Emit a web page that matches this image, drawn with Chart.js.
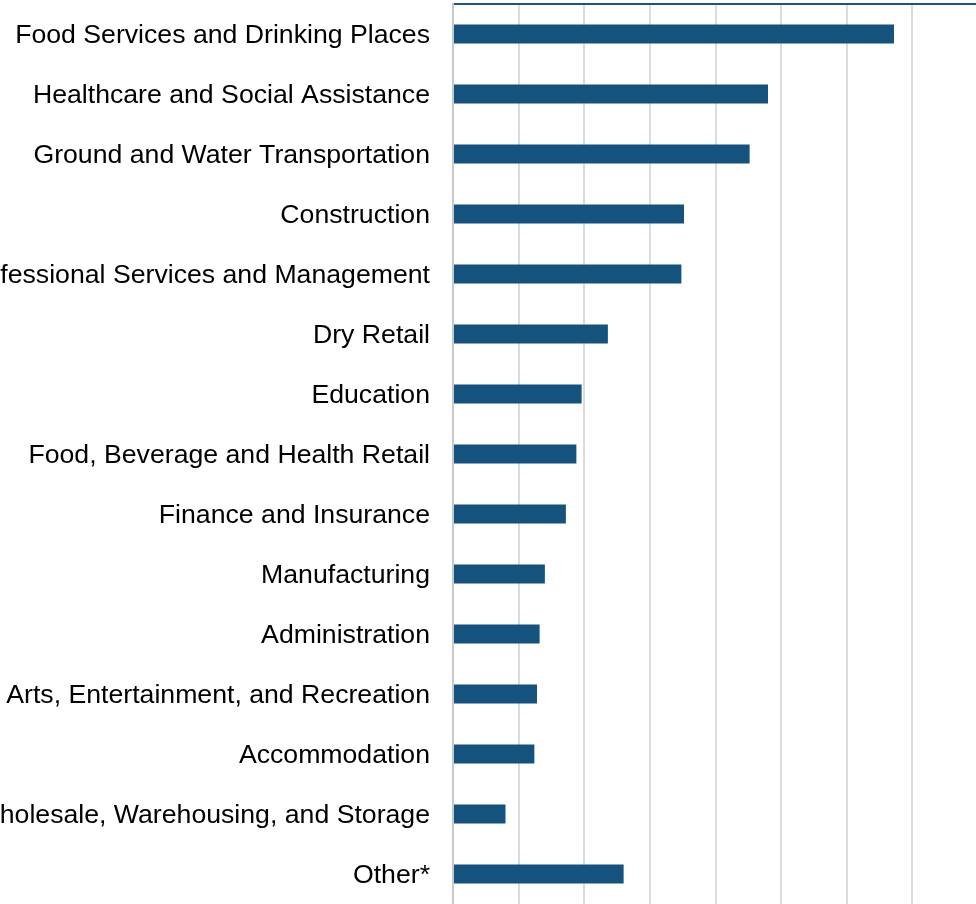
<!DOCTYPE html>
<html lang="en">
<head>
  <meta charset="UTF-8">
  <title>Jobs by industry</title>
  <script src="https://cdn.jsdelivr.net/npm/chart.js"></script>
  <style>
    body {
      margin: 0;
      background: #fff;
      overflow: hidden;
      width: 976px;
      height: 904px;
      position: relative;
    }
    #wrap {
      position: absolute;
      left: -67px;
      top: 0;
    }
  </style>
</head>
<body>

  <div id="wrap">
    <canvas id="chart" width="1045" height="904"></canvas>
  </div>

  <script>
    const industries = [
      'Food Services and Drinking Places',
      'Healthcare and Social Assistance',
      'Ground and Water Transportation',
      'Construction',
      'Professional Services and Management',
      'Dry Retail',
      'Education',
      'Food, Beverage and Health Retail',
      'Finance and Insurance',
      'Manufacturing',
      'Administration',
      'Arts, Entertainment, and Recreation',
      'Accommodation',
      'Wholesale, Warehousing, and Storage',
      'Other*'
    ];
    const shares = [16.8, 12.0, 11.3, 8.8, 8.7, 5.9, 4.9, 4.7, 4.3, 3.5, 3.3, 3.2, 3.1, 2.0, 6.5];
    const axisMax = 20;
    const axisStep = 2.5;

    const barBlue = '#14537d';

    const ctx = document.getElementById('chart').getContext('2d');
    new Chart(ctx, {
      type: 'bar',
      data: {
        labels: industries,
        datasets: [{
          data: shares,
          backgroundColor: barBlue,
          borderWidth: 0,
          categoryPercentage: 1,
          barPercentage: 0.317
        }]
      },
      options: {
        indexAxis: 'y',
        responsive: false,
        animation: false,
        layout: { padding: { top: 4, right: 0, bottom: 0, left: 0 } },
        plugins: {
          legend: { display: false },
          tooltip: { enabled: false }
        },
        scales: {
          x: {
            position: 'top',
            min: 0,
            max: axisMax,
            ticks: { display: false, stepSize: axisStep },
            grid: { color: '#dcdcdc', lineWidth: 2, drawTicks: false },
            border: { display: true, color: '#1d5582', width: 2 }
          },
          y: {
            // fixed label column; the labels' half-height padding is not needed
            afterFit(scale) {
              scale.width = 520;
              scale.paddingTop = 0;
              scale.paddingBottom = 0;
            },
            ticks: {
              autoSkip: false,
              padding: 23,
              labelOffset: 2,
              color: '#000',
              font: { family: '"Liberation Sans", Arial, sans-serif', size: 26.67 }
            },
            grid: { display: false, drawTicks: false },
            border: { display: true, color: '#c8c8c8', width: 2 }
          }
        }
      }
    });
  </script>

</body>
</html>
